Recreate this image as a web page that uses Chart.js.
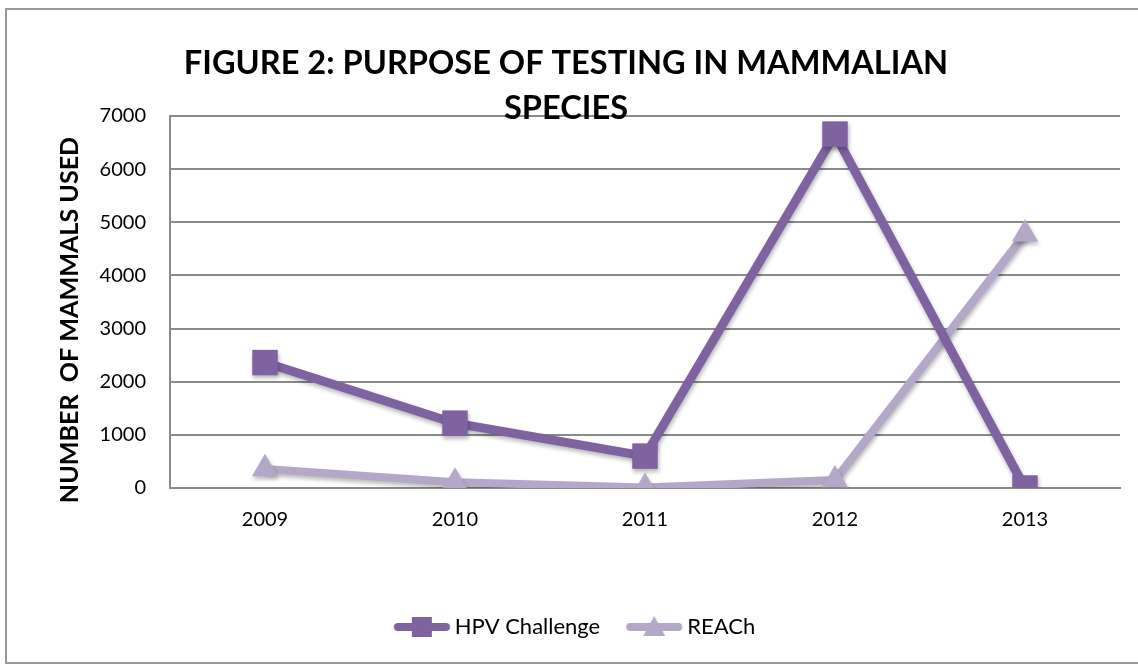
<!DOCTYPE html>
<html>
<head>
<meta charset="utf-8">
<script src="https://cdn.jsdelivr.net/npm/chart.js@4"></script>
<style>
  html, body { margin: 0; padding: 0; background: #fff; overflow: hidden; }
  #frame { position: absolute; left: 5px; top: 8px; width: 1140px; height: 652px; border: 2px solid #999; border-right: none; background: #fff; }
  #wrap { position: absolute; left: 0; top: 0; width: 1131px; height: 652px; }
</style>
</head>
<body>
<div id="frame"><div id="wrap"><canvas id="c"></canvas></div></div>
<script>
const categories = ['2009', '2010', '2011', '2012', '2013'];
const hpvChallenge = [2360, 1220, 600, 6660, 0];
const reach = [360, 110, 10, 150, 4780];
const yTicks = [0, 1000, 2000, 3000, 4000, 5000, 6000, 7000];
const titleLines = ['FIGURE 2: PURPOSE OF TESTING IN MAMMALIAN', 'SPECIES'];
const yTitle = 'NUMBER  OF MAMMALS USED';

const HPV_COLOR = '#7F63A1';
const REACH_COLOR = '#B4A8C8';
const FONT = 'Lato, "Open Sans", sans-serif';

function legendIcon(color, style) {
  const cv = document.createElement('canvas');
  cv.width = 58; cv.height = 22;
  const g = cv.getContext('2d');
  g.strokeStyle = color; g.lineWidth = 8; g.lineCap = 'round';
  g.beginPath(); g.moveTo(5, 11); g.lineTo(53, 11); g.stroke();
  g.fillStyle = color;
  if (style === 'rect') {
    g.fillRect(19, 1, 20, 20);
  } else {
    g.beginPath(); g.moveTo(29, 0); g.lineTo(40, 20); g.lineTo(18, 20); g.closePath(); g.fill();
  }
  return cv;
}

const titlePlugin = {
  id: 'customTitle',
  afterDraw(chart) {
    const ctx = chart.ctx;
    ctx.save();
    ctx.fillStyle = '#000';
    ctx.textAlign = 'center';
    ctx.textBaseline = 'middle';
    ctx.font = 'bold 32px ' + FONT;
    const w = ctx.measureText(titleLines[0]).width;
    const size = 32 * 765 / w;
    ctx.font = 'bold ' + size.toFixed(1) + 'px ' + FONT;
    ctx.fillText(titleLines[0], 559, 53);
    ctx.fillText(titleLines[1], 559, 98);
    // y-axis title
    ctx.font = 'bold 24px ' + FONT;
    const tw = ctx.measureText(yTitle).width;
    const ts = 24 * 366 / tw;
    ctx.font = 'bold ' + ts.toFixed(1) + 'px ' + FONT;
    ctx.translate(63, 310);
    ctx.rotate(-Math.PI / 2);
    ctx.fillText(yTitle, 0, 0);
    ctx.restore();
  }
};

const shadowPlugin = {
  id: 'shadow',
  beforeDatasetsDraw(chart) {
    const ctx = chart.ctx;
    ctx.save();
    ctx.shadowColor = 'rgba(0,0,0,0.28)';
    ctx.shadowBlur = 4;
    ctx.shadowOffsetX = 1;
    ctx.shadowOffsetY = 3;
  },
  afterDatasetsDraw(chart) {
    chart.ctx.restore();
  }
};

new Chart(document.getElementById('c'), {
  type: 'line',
  data: {
    labels: categories,
    datasets: [
      {
        label: 'HPV Challenge',
        data: hpvChallenge,
        borderColor: HPV_COLOR,
        backgroundColor: HPV_COLOR,
        borderWidth: 9,
        pointStyle: 'rect',
        pointRadius: 18,
        pointHoverRadius: 18,
        pointBorderWidth: 0,
        tension: 0
      },
      {
        label: 'REACh',
        data: reach,
        borderColor: REACH_COLOR,
        backgroundColor: REACH_COLOR,
        borderWidth: 8,
        pointStyle: 'triangle',
        pointRadius: 15,
        pointHoverRadius: 15,
        pointBorderWidth: 0,
        tension: 0
      }
    ]
  },
  options: {
    responsive: true,
    maintainAspectRatio: false,
    animation: false,
    layout: { padding: { top: 106, right: 10, left: 20, bottom: 14 } },
    plugins: {
      title: { display: false },
      tooltip: { enabled: false },
      legend: {
        position: 'bottom',
        labels: {
          usePointStyle: true,
          pointStyleWidth: 44,
          padding: 32,
          color: '#000',
          font: { family: FONT, size: 22 },
          generateLabels(chart) {
            return [
              { text: 'HPV Challenge', pointStyle: legendIcon(HPV_COLOR, 'rect'), fillStyle: HPV_COLOR, strokeStyle: HPV_COLOR, lineWidth: 0, datasetIndex: 0, hidden: false },
              { text: 'REACh', pointStyle: legendIcon(REACH_COLOR, 'triangle'), fillStyle: REACH_COLOR, strokeStyle: REACH_COLOR, lineWidth: 0, datasetIndex: 1, hidden: false }
            ];
          }
        }
      }
    },
    scales: {
      x: {
        offset: true,
        grid: { display: false },
        border: { display: true, color: '#8a8a8a', width: 2 },
        ticks: { color: '#000', font: { family: FONT, size: 20 }, padding: 12 },
        afterFit(s) { s.height = 96; }
      },
      y: {
        min: 0,
        max: 7000,
        afterBuildTicks(s) { s.ticks = yTicks.map(v => ({ value: v })); },
        grid: { color: '#8a8a8a', lineWidth: 2, drawTicks: false },
        border: { display: true, color: '#8a8a8a', width: 2 },
        ticks: { color: '#000', font: { family: FONT, size: 20 }, padding: 24, callback: v => String(v) },
        title: { display: false },
        afterFit(s) { s.width = 143; }
      }
    }
  },
  plugins: [titlePlugin, shadowPlugin]
});
</script>
</body>
</html>
